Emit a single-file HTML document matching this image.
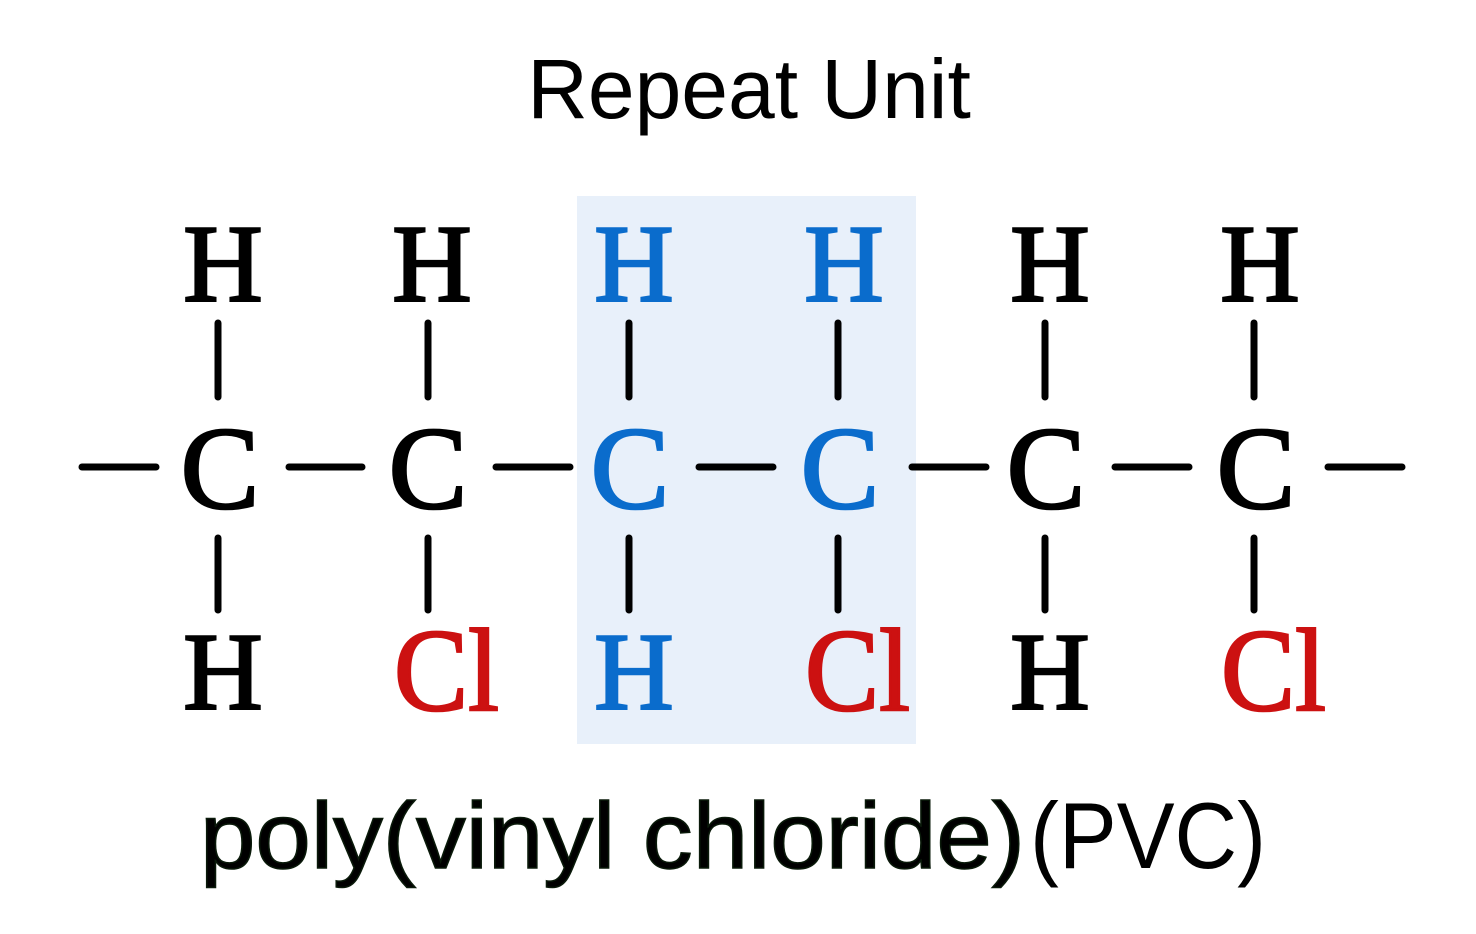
<!DOCTYPE html>
<html><head><meta charset="utf-8"><style>html,body{margin:0;padding:0;background:#fff;}svg{display:block}</style></head>
<body>
<svg width="1476" height="934" viewBox="0 0 1476 934" xmlns="http://www.w3.org/2000/svg">
<rect x="577" y="196" width="339" height="548" fill="#e8f0fa"/>
<text x="749" y="118" font-family="Liberation Sans, sans-serif" font-size="84" text-anchor="middle" fill="#000">Repeat Unit</text>
<g font-family="Liberation Serif, serif" text-anchor="middle" stroke-width="2.5">
<g font-size="110">
<text x="223" y="301" stroke="#000">H</text><text x="432" y="301" stroke="#000">H</text>
<text x="634" y="301" fill="#0a6ccc" stroke="#0a6ccc">H</text><text x="844" y="301" fill="#0a6ccc" stroke="#0a6ccc">H</text>
<text x="1050" y="301" stroke="#000">H</text><text x="1260" y="301" stroke="#000">H</text>
<text x="223" y="709" stroke="#000">H</text>
<text x="634" y="709" fill="#0a6ccc" stroke="#0a6ccc">H</text>
<text x="1050" y="709" stroke="#000">H</text>
</g>
<g font-size="118">
<text x="220" y="508" stroke="#000">C</text><text x="428" y="508" stroke="#000">C</text>
<text x="630" y="508" fill="#0a6ccc" stroke="#0a6ccc">C</text><text x="840" y="508" fill="#0a6ccc" stroke="#0a6ccc">C</text>
<text x="1046" y="508" stroke="#000">C</text><text x="1256" y="508" stroke="#000">C</text>
</g>
<g font-size="118" text-anchor="start" fill="#cc1111" stroke="#cc1111">
<text x="394" y="710" textLength="105" lengthAdjust="spacingAndGlyphs">Cl</text>
<text x="805" y="710" textLength="105" lengthAdjust="spacingAndGlyphs">Cl</text>
<text x="1221" y="710" textLength="105" lengthAdjust="spacingAndGlyphs">Cl</text>
</g>
</g>
<g stroke="#000" stroke-width="7" stroke-linecap="round">
<line x1="218" y1="323" x2="218" y2="397"/><line x1="428" y1="323" x2="428" y2="397"/>
<line x1="629" y1="323" x2="629" y2="397"/><line x1="838" y1="323" x2="838" y2="397"/>
<line x1="1045" y1="323" x2="1045" y2="397"/><line x1="1254" y1="323" x2="1254" y2="397"/>
<line x1="218" y1="538" x2="218" y2="610"/><line x1="428" y1="538" x2="428" y2="610"/>
<line x1="629" y1="538" x2="629" y2="610"/><line x1="838" y1="538" x2="838" y2="610"/>
<line x1="1045" y1="538" x2="1045" y2="610"/><line x1="1254" y1="538" x2="1254" y2="610"/>
<line x1="82" y1="467" x2="156" y2="467"/><line x1="289" y1="467" x2="362" y2="467"/>
<line x1="496" y1="467" x2="570" y2="467"/><line x1="699" y1="467" x2="773" y2="467"/>
<line x1="912" y1="467" x2="986" y2="467"/><line x1="1115" y1="467" x2="1189" y2="467"/>
<line x1="1328" y1="467" x2="1402" y2="467"/>
</g>
<g font-family="Liberation Sans, sans-serif" font-size="94" fill="#000">
<text x="200" y="868" textLength="825" lengthAdjust="spacingAndGlyphs" stroke="#0a1a0a" stroke-width="1.5">poly(vinyl chloride)</text>
<text x="1030" y="868" textLength="236" lengthAdjust="spacingAndGlyphs">(PVC)</text>
</g>
</svg>
</body></html>
